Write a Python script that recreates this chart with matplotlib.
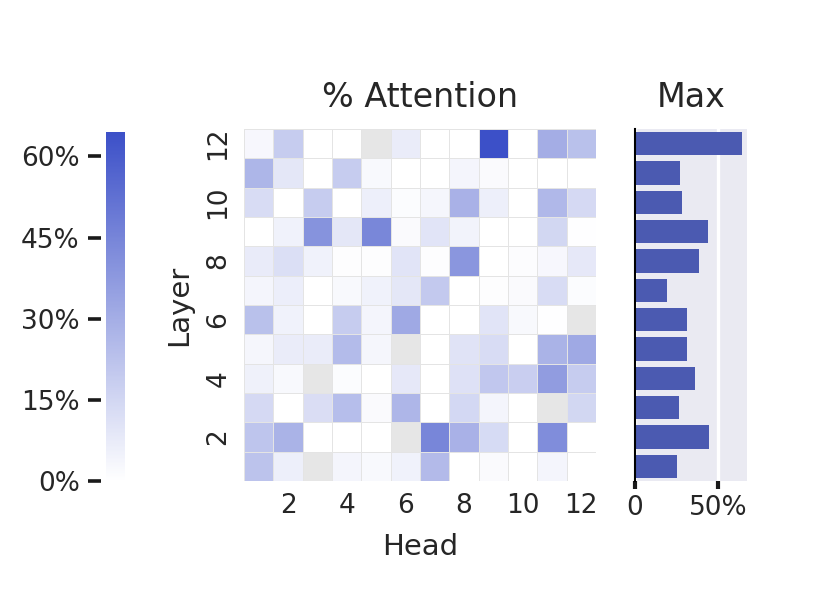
import numpy as np
import matplotlib.pyplot as plt
from matplotlib.colors import LinearSegmentedColormap
from matplotlib.ticker import FuncFormatter

# Heads (x) and layers (y) of the attention heatmap
heads = list(range(1, 13))
layers = list(range(1, 13))
nan = np.nan

# % attention per head, one row per layer (layer 1 first), nan = no value (gray)
attention = [
    [22.0, 6.0, nan, 4.0, 2.5, 5.0, 25.3, 0.0, 2.0, 0.0, 4.0, 0.0],        # layer 1
    [21.5, 28.0, 0.0, 0.0, 0.0, nan, 44.8, 28.5, 13.5, 0.0, 42.0, 0.0],    # layer 2
    [14.0, 0.0, 12.5, 24.0, 2.0, 26.9, 0.0, 14.5, 4.0, 0.0, nan, 15.0],    # layer 3
    [5.5, 2.5, nan, 1.5, 0.0, 8.5, 0.0, 11.0, 20.5, 18.0, 36.3, 19.0],     # layer 4
    [3.5, 7.0, 7.0, 25.0, 3.5, nan, 0.0, 10.5, 13.0, 0.0, 28.0, 31.5],     # layer 5
    [23.0, 5.0, 0.0, 19.0, 4.0, 31.7, 0.0, 0.0, 10.0, 2.5, 0.5, nan],      # layer 6
    [4.0, 6.5, 0.0, 2.5, 5.0, 9.0, 19.7, 0.0, 1.0, 2.0, 13.0, 1.5],        # layer 7
    [7.5, 12.0, 5.0, 1.0, 1.0, 10.0, 1.0, 38.6, 0.0, 1.2, 3.0, 8.5],       # layer 8
    [0.0, 5.0, 40.0, 9.0, 44.2, 2.0, 10.0, 4.5, 0.0, 0.0, 15.0, 0.5],      # layer 9
    [13.0, 0.0, 19.0, 0.0, 6.0, 1.5, 3.5, 28.7, 6.0, 0.0, 26.0, 14.0],     # layer 10
    [27.0, 9.0, 0.0, 19.0, 2.5, 0.0, 0.0, 4.0, 2.0, 0.0, 0.0, 0.0],        # layer 11
    [3.0, 19.0, 0.0, 0.0, nan, 7.0, 0.0, 0.0, 64.5, 0.0, 30.0, 23.0],      # layer 12
]

cbar_ticks = [0, 15, 30, 45, 60]
max_ticks = [0, 50]
max_tick_labels = ['0', '50%']

text_color = '#262626'
plt.rcParams['text.color'] = text_color
plt.rcParams['axes.labelcolor'] = text_color
plt.rcParams['xtick.color'] = text_color
plt.rcParams['ytick.color'] = text_color
plt.rcParams['xtick.labelsize'] = 19
plt.rcParams['ytick.labelsize'] = 19

att = np.array(attention) / 100
layer_max = np.nanmax(att, axis=1)

cmap = LinearSegmentedColormap.from_list('att', ['#ffffff', '#3c50c8'])
cmap.set_bad('#e6e6e6')

fig = plt.figure(figsize=(8.3, 6.09), dpi=100)

# Heatmap
ax = fig.add_axes([0.294, 0.2102, 0.424, 0.578])
edges = np.arange(0.5, len(heads) + 1)
mesh = ax.pcolormesh(edges, edges, np.ma.masked_invalid(att), cmap=cmap,
                     vmin=0, vmax=np.nanmax(att),
                     edgecolors='#e4e4e4', linewidth=0.7)
ax.set_xlim(0.5, 12.5)
ax.set_ylim(0.5, 12.5)
ax.set_xticks(heads[1::2])
ax.set_xticklabels([str(h) for h in heads[1::2]])
ax.set_yticks(layers[1::2])
ax.set_yticklabels([str(l) for l in layers[1::2]], rotation=90, va='center')
ax.tick_params(length=0)
ax.tick_params(axis='x', pad=9)
ax.tick_params(axis='y', pad=9)
for s in ax.spines.values():
    s.set_visible(False)
ax.set_xlabel('Head', fontsize=21, labelpad=10)
ax.set_ylabel('Layer', fontsize=21, labelpad=9)
ax.set_title('% Attention', fontsize=24, pad=16)

# Colorbar on the left
cax = fig.add_axes([0.1277, 0.2102, 0.0229, 0.573])
cb = fig.colorbar(mesh, cax=cax)
cb.outline.set_visible(False)
cax.yaxis.set_ticks_position('left')
cax.yaxis.set_label_position('left')
cax.spines['left'].set_position(('outward', 3.6))
cb.set_ticks([t / 100 for t in cbar_ticks])
cax.yaxis.set_major_formatter(FuncFormatter(lambda v, p: f'{v * 100:.0f}%'))
cax.tick_params(length=9.5, width=2.6, color='#1a1a1a', labelsize=19, pad=5.8)

# Max attention per layer
ax2 = fig.add_axes([0.7647, 0.2102, 0.1357, 0.578])
ax2.set_facecolor('#eaeaf2')
ax2.barh(layers, layer_max, height=0.8, color='#4b5ab1', zorder=2)
ax2.set_ylim(0.5, 12.5)
ax2.set_xlim(0, layer_max.max() * 1.05)
ax2.set_xticks([t / 100 for t in max_ticks])
ax2.set_xticklabels(max_tick_labels)
ax2.set_yticks([])
ax2.grid(axis='x', color='white', linewidth=2.4, zorder=1)
ax2.set_axisbelow(True)
for name, s in ax2.spines.items():
    s.set_visible(name == 'left')
ax2.spines['left'].set_color('black')
ax2.spines['left'].set_linewidth(1.5)
ax2.spines['left'].set_zorder(3)
ax2.tick_params(axis='x', length=6, width=3, color='#1a1a1a', pad=4)
ax2.set_title('Max', fontsize=24, pad=16)

fig.savefig('out.png', dpi=100)
